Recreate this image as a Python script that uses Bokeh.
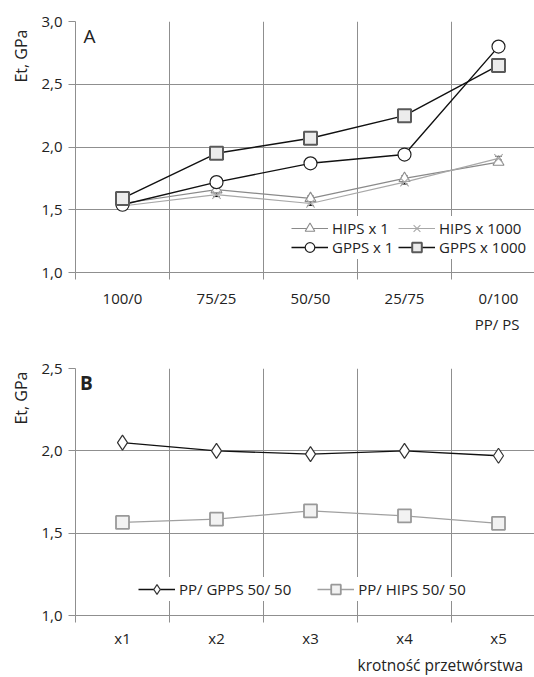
import math
from bokeh.plotting import figure
from bokeh.models import (Range1d, FixedTicker, CustomJSTickFormatter, Whisker, TeeHead,
                          Legend, LegendItem, Label, Title, ColumnDataSource)
from bokeh.layouts import column
from bokeh.embed import file_html
from bokeh.resources import INLINE

# ---------------- data ----------------
cats_a = ["100/0", "75/25", "50/50", "25/75", "0/100"]
hips_x1 = [1.55, 1.66, 1.59, 1.75, 1.88]
hips_x1_err = [0.01, 0.02, 0.02, 0.02, 0.015]
hips_x1000 = [1.53, 1.62, 1.55, 1.72, 1.91]
hips_x1000_err = [0.01, 0.015, 0.015, 0.015, 0.015]
gpps_x1 = [1.54, 1.72, 1.87, 1.94, 2.80]
gpps_x1_err = [0.01, 0.015, 0.015, 0.01, 0.04]
gpps_x1000 = [1.59, 1.95, 2.07, 2.25, 2.65]
gpps_x1000_err = [0.015, 0.025, 0.02, 0.025, 0.015]

cats_b = ["x1", "x2", "x3", "x4", "x5"]
pp_gpps = [2.05, 2.00, 1.98, 2.00, 1.97]
pp_gpps_err = [0.01, 0.015, 0.01, 0.015, 0.015]
pp_hips = [1.565, 1.585, 1.635, 1.605, 1.56]
pp_hips_err = [0.01, 0.02, 0.02, 0.035, 0.03]

yticks_a = [1.0, 1.5, 2.0, 2.5, 3.0]
yticks_b = [1.0, 1.5, 2.0, 2.5]

FONT = "Open Sans"
GRID = "#8f8f8f"
TXT = "#222222"
X_END = 459 / 94.0


def make_fig(height, top, bottom, ymin, ymax, yticks, cats, xstand):
    p = figure(width=534, height=height, x_range=Range1d(0, X_END), y_range=Range1d(ymin, ymax),
               output_backend="svg", toolbar_location=None,
               min_border_left=75, min_border_right=0, min_border_top=top, min_border_bottom=bottom)
    p.outline_line_color = None
    p.background_fill_color = "white"
    p.border_fill_color = "white"
    # y axis
    p.yaxis.ticker = FixedTicker(ticks=yticks, minor_ticks=[])
    p.yaxis.formatter = CustomJSTickFormatter(code="return tick.toFixed(1).replace('.', ',')")
    p.yaxis.axis_line_color = GRID
    p.yaxis.major_tick_line_color = GRID
    p.yaxis.major_tick_out = 7
    p.yaxis.major_tick_in = 0
    p.yaxis.major_label_standoff = 6
    p.yaxis.major_label_text_font = FONT
    p.yaxis.major_label_text_font_size = "15px"
    p.yaxis.major_label_text_color = TXT
    # x axis
    n = len(cats)
    p.xaxis.ticker = FixedTicker(ticks=[i + 0.5 for i in range(n)], minor_ticks=list(range(n + 1)))
    p.xaxis.formatter = CustomJSTickFormatter(args=dict(labels=cats),
                                              code="const i = Math.floor(tick); return labels[i] || '';")
    p.xaxis.axis_line_color = GRID
    p.xaxis.major_tick_out = 0
    p.xaxis.major_tick_in = 0
    p.xaxis.minor_tick_line_color = GRID
    p.xaxis.minor_tick_out = 7
    p.xaxis.minor_tick_in = 0
    p.xaxis.major_label_standoff = xstand
    p.xaxis.major_label_text_font = FONT
    p.xaxis.major_label_text_font_size = "15px"
    p.xaxis.major_label_text_color = TXT
    # grids
    p.xgrid.ticker = FixedTicker(ticks=list(range(n + 1)))
    p.xgrid.grid_line_color = GRID
    p.ygrid.grid_line_color = GRID
    return p


def add_err(p, xs, ys, errs):
    src = ColumnDataSource(dict(x=xs, lo=[y - e for y, e in zip(ys, errs)],
                                hi=[y + e for y, e in zip(ys, errs)]))
    w = Whisker(source=src, base="x", lower="lo", upper="hi", dimension="height",
                line_color="black", line_width=1,
                upper_head=TeeHead(size=6, line_color="black", line_width=1),
                lower_head=TeeHead(size=6, line_color="black", line_width=1))
    p.add_layout(w)


def legend(items, loc, spacing, label_width=20):
    return Legend(items=items, orientation="horizontal", location=loc,
                  glyph_width=37, glyph_height=24, label_height=16, label_width=label_width,
                  spacing=spacing, label_standoff=4, padding=0, margin=0,
                  background_fill_color="white", background_fill_alpha=1.0, border_line_color=None,
                  label_text_font=FONT, label_text_font_size="15px", label_text_color=TXT)


def side_title(text, size, align, offset, standoff):
    return Title(text=text, align=align, offset=offset, standoff=standoff, text_font=FONT,
                 text_font_size=size, text_font_style="normal", text_color=TXT)


# ---------------- chart A ----------------
pa = make_fig(336, 21, 64, 1.0, 3.0, yticks_a, cats_a, 8)
xa = [i + 0.5 for i in range(len(cats_a))]

series_a = [
    ("HIPS x 1", hips_x1, hips_x1_err, "triangle", dict(size=11, line_color="#8a8a8a", fill_color="white", line_width=1.1), "#8a8a8a", 1.2),
    ("HIPS x 1000", hips_x1000, hips_x1000_err, "x", dict(size=12, line_color="#a8a8a8", line_width=1.1), "#a8a8a8", 1.2),
    ("GPPS x 1", gpps_x1, gpps_x1_err, "circle", dict(size=13, line_color="#222222", fill_color="white", line_width=1.2), "#111111", 1.4),
    ("GPPS x 1000", gpps_x1000, gpps_x1000_err, "square", dict(size=13, line_color="#5a5a5a", fill_color="#ececec", line_width=2.0), "#111111", 1.4),
]
items_a = []
for name, ys, errs, marker, mstyle, lcol, lw in series_a:
    r1 = pa.line(xa, ys, line_color=lcol, line_width=lw)
    r2 = pa.scatter(xa, ys, marker=marker, **mstyle)
    items_a.append(LegendItem(label=name, renderers=[r1, r2]))
for name, ys, errs, *_ in series_a:
    add_err(pa, xa, ys, errs)

# second legend row first (drawn below), then first row on top
pa.add_layout(legend(items_a[2:], (216, 13), 4, 62), "center")
pa.add_layout(legend(items_a[:2], (216, 32), 4, 62), "center")

pa.add_layout(Label(x=0.149, y=2.885, text="A", text_font=FONT, text_font_size="19px",
                    text_color=TXT, text_align="center", text_baseline="middle"))
pa.add_layout(side_title("Et, GPa", "16px", "right", 8, 13), "left")
pa.add_layout(side_title("PP/ PS", "15px", "right", 15, 3), "below")

# ---------------- chart B ----------------
pb = make_fig(341, 32, 56, 1.0, 2.5, yticks_b, cats_b, 5)
xb = [i + 0.5 for i in range(len(cats_b))]

series_b = [
    ("PP/ GPPS 50/ 50", pp_gpps, pp_gpps_err, "diamond", dict(size=15, line_color="#333333", fill_color="white", line_width=1.2), "#111111", 1.4),
    ("PP/ HIPS 50/ 50", pp_hips, pp_hips_err, "square", dict(size=13, line_color="#999999", fill_color="#f2f2f2", line_width=1.8), "#a0a0a0", 1.3),
]
items_b = []
for name, ys, errs, marker, mstyle, lcol, lw in series_b:
    r1 = pb.line(xb, ys, line_color=lcol, line_width=lw)
    r2 = pb.scatter(xb, ys, marker=marker, **mstyle)
    items_b.append(LegendItem(label=name, renderers=[r1, r2]))
for name, ys, errs, *_ in series_b:
    add_err(pb, xb, ys, errs)

pb.add_layout(legend(items_b, (63, 14), 26), "center")

pb.add_layout(Label(x=0.117, y=2.41, text="B", text_font=FONT, text_font_size="19px",
                    text_font_style="bold", text_color=TXT, text_align="center", text_baseline="middle"))
pb.add_layout(side_title("Et, GPa", "16px", "right", 3, 13), "left")
pb.add_layout(side_title("krotność przetwórstwa", "15.5px", "left", 282, 3), "below")

layout = column(pa, pb, spacing=0)
open("out.html", "w").write(file_html(layout, INLINE))
